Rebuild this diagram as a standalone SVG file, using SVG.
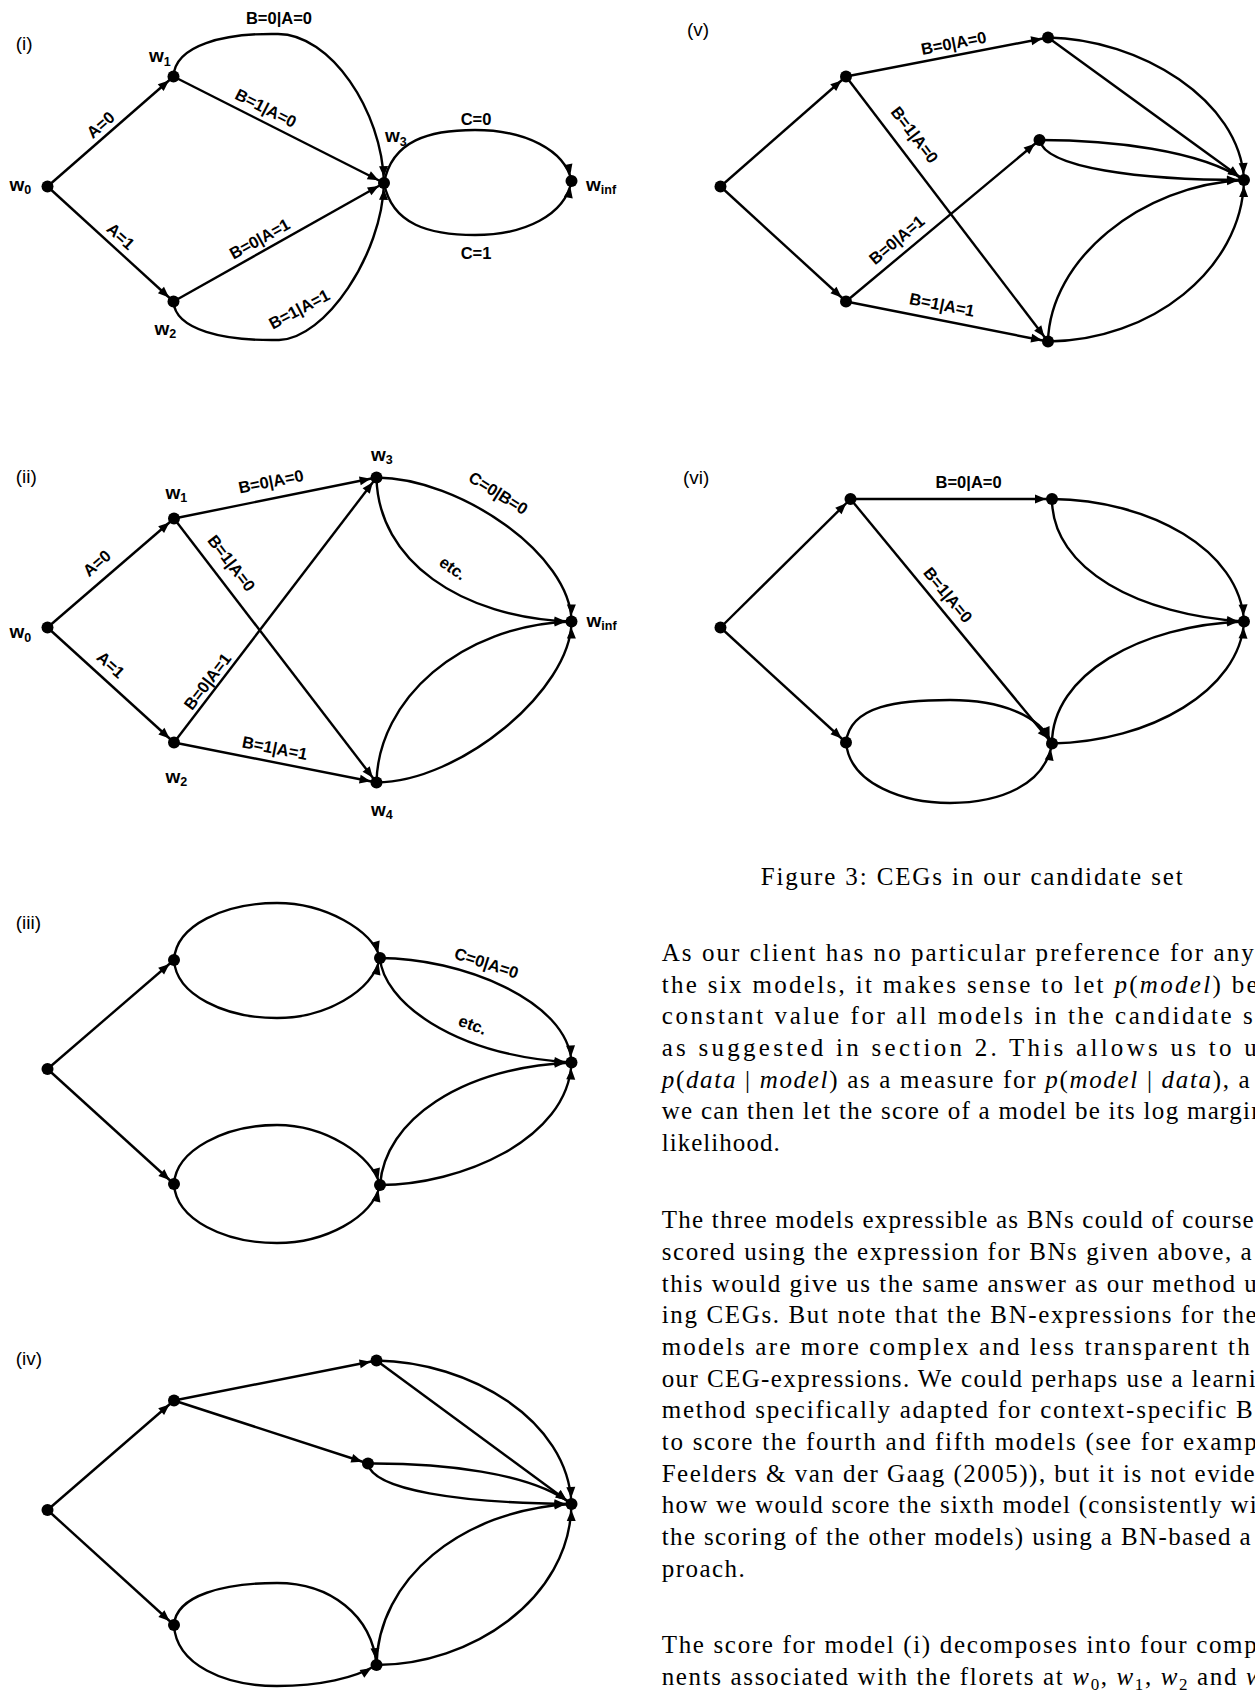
<svg xmlns="http://www.w3.org/2000/svg" width="1255" height="1691" viewBox="0 0 1255 1691">
<defs>
<marker id="ah" markerUnits="userSpaceOnUse" markerWidth="20" markerHeight="10" refX="17" refY="4.5" orient="auto" overflow="visible">
<path d="M0,0 L11,4.5 L0,9 z" fill="#000"/>
</marker>
<style>
.e{fill:none;stroke:#000;stroke-width:2.4;marker-end:url(#ah)}
circle{fill:#000}
.lb{font-family:"Liberation Sans",Arial,sans-serif;font-weight:bold;font-size:16.5px;text-anchor:middle;fill:#000}
.wl{font-family:"Liberation Sans",Arial,sans-serif;font-weight:bold;font-size:19px;fill:#000}
.sb{font-size:12.5px}
.pl{font-family:"Liberation Sans",Arial,sans-serif;font-size:19px;fill:#000}
.tx{font-family:"Liberation Serif","DejaVu Serif",serif;font-size:25px;fill:#000}
.it{font-style:italic}
</style>
</defs>
<rect width="1255" height="1691" fill="#fff"/>

<g id="connectors">
<!-- (i) -->
<path class="e" d="M47.5,186.5 L173.5,76.5"/>
<path class="e" d="M47.5,186.5 L173.5,301.5"/>
<path class="e" d="M173.5,76.5 L384,183"/>
<path class="e" d="M173.5,301.5 L384,183"/>
<path class="e" d="M173.5,76.5 C175,45 224,33 278,34 C330,34 382,110 384,183"/>
<path class="e" d="M173.5,301.5 C175,330 224,341 279,340 C325,339 382,255 384,183"/>
<path class="e" d="M384,183 C392,140 430,130 475,130 C525,130 565,150 571.5,181"/>
<path class="e" d="M384,183 C392,225 430,235 475,235 C525,235 565,215 571.5,181"/>
<!-- (ii) -->
<path class="e" d="M47.5,627.5 L174,518.5"/>
<path class="e" d="M47.5,627.5 L174,742.5"/>
<path class="e" d="M174,518.5 L376.5,477.5"/>
<path class="e" d="M174,518.5 L376.5,782.5"/>
<path class="e" d="M174,742.5 L376.5,477.5"/>
<path class="e" d="M174,742.5 L376.5,782.5"/>
<path class="e" d="M376.5,477.5 C460,478 571,555 571.5,621.5"/>
<path class="e" d="M376.5,477.5 C378,560 460,618 571.5,621.5"/>
<path class="e" d="M376.5,782.5 C378,700 460,625 571.5,621.5"/>
<path class="e" d="M376.5,782.5 C460,782 571,690 571.5,621.5"/>
<!-- (iii) -->
<path class="e" d="M47.5,1069 L174,960"/>
<path class="e" d="M47.5,1069 L174,1184"/>
<path class="e" d="M174,960 C176,925 225,903 277,903 C325,903 372,930 380,958"/>
<path class="e" d="M174,960 C176,995 225,1018 277,1018 C325,1018 372,992 380,958"/>
<path class="e" d="M174,1184 C176,1150 225,1125 277,1125 C325,1125 372,1155 380,1185"/>
<path class="e" d="M174,1184 C176,1220 225,1243 277,1243 C325,1243 372,1218 380,1185"/>
<path class="e" d="M380,958 C460,958 568,1000 571.5,1062.5"/>
<path class="e" d="M380,958 C383,1000 450,1055 571.5,1062.5"/>
<path class="e" d="M380,1185 C385,1120 460,1068 571.5,1062.5"/>
<path class="e" d="M380,1185 C460,1185 568,1140 571.5,1062.5"/>
<!-- (iv) -->
<path class="e" d="M47.5,1510 L174,1400.5"/>
<path class="e" d="M47.5,1510 L174,1625"/>
<path class="e" d="M174,1400.5 L376.5,1360.5"/>
<path class="e" d="M174,1400.5 L368,1463.5"/>
<path class="e" d="M376.5,1360.5 L571.5,1504"/>
<path class="e" d="M376.5,1360.5 C470,1362 568,1420 571.5,1504"/>
<path class="e" d="M368,1463.5 C440,1463 530,1472 571.5,1504"/>
<path class="e" d="M368,1463.5 C372,1490 460,1503 571.5,1504"/>
<path class="e" d="M174,1625 C176,1595 225,1583 277,1583 C330,1583 372,1615 376.5,1665"/>
<path class="e" d="M174,1625 C176,1665 225,1686 277,1686 C320,1686 355,1678 376.5,1665"/>
<path class="e" d="M376.5,1665 C378,1580 460,1510 571.5,1504"/>
<path class="e" d="M376.5,1665 C470,1665 570,1600 571.5,1504"/>
<!-- (v) -->
<path class="e" d="M720.5,186.5 L846,76.5"/>
<path class="e" d="M720.5,186.5 L846,301.5"/>
<path class="e" d="M846,76.5 L1048,37.5"/>
<path class="e" d="M846,76.5 L1048,341.5"/>
<path class="e" d="M846,301.5 L1039.5,140"/>
<path class="e" d="M846,301.5 L1048,341.5"/>
<path class="e" d="M1048,37.5 L1244,180"/>
<path class="e" d="M1048,37.5 C1140,39 1240,100 1244,180"/>
<path class="e" d="M1039.5,140 C1110,140 1200,150 1244,180"/>
<path class="e" d="M1039.5,140 C1045,168 1140,180 1244,180"/>
<path class="e" d="M1048,341.5 C1050,260 1140,185 1244,180"/>
<path class="e" d="M1048,341.5 C1150,341 1242,270 1244,180"/>
<!-- (vi) -->
<path class="e" d="M720.5,627.5 L850.5,499"/>
<path class="e" d="M720.5,627.5 L846,742.5"/>
<path class="e" d="M850.5,499 L1052,499"/>
<path class="e" d="M850.5,499 L1052,743.5"/>
<path class="e" d="M846,742.5 C850,705 900,700 950,700 C1000,700 1040,715 1052,743.5"/>
<path class="e" d="M846,742.5 C850,785 905,803 950,803 C1000,803 1045,785 1052,743.5"/>
<path class="e" d="M1052,499 C1150,500 1240,550 1244,621.5"/>
<path class="e" d="M1052,499 C1052,570 1140,615 1244,621.5"/>
<path class="e" d="M1052,743.5 C1052,675 1140,625 1244,621.5"/>
<path class="e" d="M1052,743.5 C1150,742 1240,690 1244,621.5"/>
</g>

<g id="edge-labels">
<text class="lb" x="279" y="23.5">B=0|A=0</text>
<text class="lb" x="476" y="124.5">C=0</text>
<text class="lb" x="476" y="258.5">C=1</text>
<text class="lb" transform="translate(100.8,125) rotate(-41)" y="5.5">A=0</text>
<text class="lb" transform="translate(120.6,236.5) rotate(42)" y="5.5">A=1</text>
<text class="lb" transform="translate(265.7,108.3) rotate(27)" y="5.5">B=1|A=0</text>
<text class="lb" transform="translate(259.8,239) rotate(-29)" y="5.5">B=0|A=1</text>
<text class="lb" transform="translate(299.3,309.3) rotate(-28)" y="5.5">B=1|A=1</text>

<text class="lb" transform="translate(97,563.3) rotate(-41)" y="5.5">A=0</text>
<text class="lb" transform="translate(110.7,665) rotate(42)" y="5.5">A=1</text>
<text class="lb" transform="translate(271,481.7) rotate(-11.3)" y="5.5">B=0|A=0</text>
<text class="lb" transform="translate(231.3,563.3) rotate(52.6)" y="5.5">B=1|A=0</text>
<text class="lb" transform="translate(207.6,681.7) rotate(-52.6)" y="5.5">B=0|A=1</text>
<text class="lb" transform="translate(274.8,748.3) rotate(11.2)" y="5.5">B=1|A=1</text>
<text class="lb" transform="translate(498.2,493.3) rotate(32)" y="5.5">C=0|B=0</text>
<text class="lb" transform="translate(452.7,568.3) rotate(35)" y="5.5">etc.</text>

<text class="lb" transform="translate(486.4,963.3) rotate(18)" y="5.5">C=0|A=0</text>
<text class="lb" transform="translate(472.5,1025) rotate(20)" y="5.5">etc.</text>

<text class="lb" transform="translate(953.7,43.3) rotate(-11)" y="5.5">B=0|A=0</text>
<text class="lb" transform="translate(914.5,135) rotate(52.7)" y="5.5">B=1|A=0</text>
<text class="lb" transform="translate(896.9,240) rotate(-39.9)" y="5.5">B=0|A=1</text>
<text class="lb" transform="translate(942,305) rotate(11.2)" y="5.5">B=1|A=1</text>

<text class="lb" x="968.6" y="488.3">B=0|A=0</text>
<text class="lb" transform="translate(947.8,595) rotate(50.5)" y="5.5">B=1|A=0</text>
</g>

<g id="panel-labels">
<text class="pl" x="15.8" y="49.7">(i)</text>
<text class="pl" x="15.8" y="483">(ii)</text>
<text class="pl" x="15.8" y="929">(iii)</text>
<text class="pl" x="15.8" y="1364.7">(iv)</text>
<text class="pl" x="687" y="36.4">(v)</text>
<text class="pl" x="683" y="483.6">(vi)</text>
</g>

<!-- nodes (i) -->
<g id="i-w0"><circle cx="47.5" cy="186.5" r="6"/><text class="wl" x="9.5" y="190.7">w<tspan class="sb" dy="3">0</tspan></text></g>
<g id="i-w1"><circle cx="173.5" cy="76.5" r="6"/><text class="wl" x="149" y="62.3">w<tspan class="sb" dy="4">1</tspan></text></g>
<g id="i-w2"><circle cx="173.5" cy="301.5" r="6"/><text class="wl" x="154.5" y="335">w<tspan class="sb" dy="3">2</tspan></text></g>
<g id="i-w3"><circle cx="384" cy="183" r="6"/><text class="wl" x="385" y="142.3">w<tspan class="sb" dy="4">3</tspan></text></g>
<g id="i-winf"><circle cx="571.5" cy="181" r="6"/><text class="wl" x="586" y="190.7">w<tspan class="sb" dy="3">inf</tspan></text></g>
<!-- nodes (ii) -->
<g id="ii-w0"><circle cx="47.5" cy="627.5" r="6"/><text class="wl" x="9.5" y="637.5">w<tspan class="sb" dy="4">0</tspan></text></g>
<g id="ii-w1"><circle cx="174" cy="518.5" r="6"/><text class="wl" x="165.5" y="499">w<tspan class="sb" dy="3">1</tspan></text></g>
<g id="ii-w2"><circle cx="174" cy="742.5" r="6"/><text class="wl" x="165.5" y="782.7">w<tspan class="sb" dy="3">2</tspan></text></g>
<g id="ii-w3"><circle cx="376.5" cy="477.5" r="6"/><text class="wl" x="371" y="460.7">w<tspan class="sb" dy="3">3</tspan></text></g>
<g id="ii-w4"><circle cx="376.5" cy="782.5" r="6"/><text class="wl" x="371" y="816">w<tspan class="sb" dy="3">4</tspan></text></g>
<g id="ii-winf"><circle cx="571.5" cy="621.5" r="6"/><text class="wl" x="586.5" y="626.7">w<tspan class="sb" dy="3">inf</tspan></text></g>
<!-- nodes (iii) -->
<g id="iii-n0"><circle cx="47.5" cy="1069" r="6"/></g>
<g id="iii-n1"><circle cx="174" cy="960" r="6"/></g>
<g id="iii-n2"><circle cx="380" cy="958" r="6"/></g>
<g id="iii-n3"><circle cx="174" cy="1184" r="6"/></g>
<g id="iii-n4"><circle cx="380" cy="1185" r="6"/></g>
<g id="iii-n5"><circle cx="571.5" cy="1062.5" r="6"/></g>
<!-- nodes (iv) -->
<g id="iv-n0"><circle cx="47.5" cy="1510" r="6"/></g>
<g id="iv-n1"><circle cx="174" cy="1400.5" r="6"/></g>
<g id="iv-n2"><circle cx="376.5" cy="1360.5" r="6"/></g>
<g id="iv-n3"><circle cx="368" cy="1463.5" r="6"/></g>
<g id="iv-n4"><circle cx="174" cy="1625" r="6"/></g>
<g id="iv-n5"><circle cx="376.5" cy="1665" r="6"/></g>
<g id="iv-n6"><circle cx="571.5" cy="1504" r="6"/></g>
<!-- nodes (v) -->
<g id="v-n0"><circle cx="720.5" cy="186.5" r="6"/></g>
<g id="v-n1"><circle cx="846" cy="76.5" r="6"/></g>
<g id="v-n2"><circle cx="1048" cy="37.5" r="6"/></g>
<g id="v-n3"><circle cx="1039.5" cy="140" r="6"/></g>
<g id="v-n4"><circle cx="846" cy="301.5" r="6"/></g>
<g id="v-n5"><circle cx="1048" cy="341.5" r="6"/></g>
<g id="v-n6"><circle cx="1244" cy="180" r="6"/></g>
<!-- nodes (vi) -->
<g id="vi-n0"><circle cx="720.5" cy="627.5" r="6"/></g>
<g id="vi-n1"><circle cx="850.5" cy="499" r="6"/></g>
<g id="vi-n2"><circle cx="1052" cy="499" r="6"/></g>
<g id="vi-n3"><circle cx="846" cy="742.5" r="6"/></g>
<g id="vi-n4"><circle cx="1052" cy="743.5" r="6"/></g>
<g id="vi-n5"><circle cx="1244" cy="621.5" r="6"/></g>

<g id="caption">
<text class="tx" x="760.7" y="885" font-size="26" textLength="422" lengthAdjust="spacing">Figure 3: CEGs in our candidate set</text>
</g>

<g id="body-text">
<text class="tx" x="661.7" y="961" textLength="592" lengthAdjust="spacing">As our client has no particular preference for any</text>
<text class="tx" x="661.7" y="992.7" textLength="596" lengthAdjust="spacing">the six models, it makes sense to let <tspan class="it">p</tspan>(<tspan class="it">model</tspan>) be</text>
<text class="tx" x="661.7" y="1024.3" textLength="591" lengthAdjust="spacing">constant value for all models in the candidate s</text>
<text class="tx" x="661.7" y="1056" textLength="595" lengthAdjust="spacing">as suggested in section 2.  This allows us to u</text>
<text class="tx" x="661.7" y="1087.7" textLength="588" lengthAdjust="spacing"><tspan class="it">p</tspan>(<tspan class="it">data</tspan> | <tspan class="it">model</tspan>) as a measure for <tspan class="it">p</tspan>(<tspan class="it">model</tspan> | <tspan class="it">data</tspan>), a</text>
<text class="tx" x="661.7" y="1119.3" textLength="602" lengthAdjust="spacing">we can then let the score of a model be its log margin</text>
<text class="tx" x="661.7" y="1151" textLength="118" lengthAdjust="spacing">likelihood.</text>

<text class="tx" x="661.7" y="1228.3" textLength="592" lengthAdjust="spacing">The three models expressible as BNs could of course</text>
<text class="tx" x="661.7" y="1260" textLength="590" lengthAdjust="spacing">scored using the expression for BNs given above, a</text>
<text class="tx" x="661.7" y="1291.7" textLength="595" lengthAdjust="spacing">this would give us the same answer as our method u</text>
<text class="tx" x="661.7" y="1323.3" textLength="595" lengthAdjust="spacing">ing CEGs. But note that the BN-expressions for the</text>
<text class="tx" x="661.7" y="1355" textLength="588" lengthAdjust="spacing">models are more complex and less transparent th</text>
<text class="tx" x="661.7" y="1386.7" textLength="594" lengthAdjust="spacing">our CEG-expressions. We could perhaps use a learni</text>
<text class="tx" x="661.7" y="1418.3" textLength="591" lengthAdjust="spacing">method specifically adapted for context-specific B</text>
<text class="tx" x="661.7" y="1450" textLength="595" lengthAdjust="spacing">to score the fourth and fifth models (see for examp</text>
<text class="tx" x="661.7" y="1481.7" textLength="593" lengthAdjust="spacing">Feelders &amp; van der Gaag (2005)), but it is not evide</text>
<text class="tx" x="661.7" y="1513.3" textLength="595" lengthAdjust="spacing">how we would score the sixth model (consistently wi</text>
<text class="tx" x="661.7" y="1545" textLength="589" lengthAdjust="spacing">the scoring of the other models) using a BN-based a</text>
<text class="tx" x="661.7" y="1576.7" textLength="83" lengthAdjust="spacing">proach.</text>

<text class="tx" x="661.7" y="1653.3" textLength="595" lengthAdjust="spacing">The score for model (i) decomposes into four comp</text>
<text class="tx" x="661.7" y="1684.5" textLength="601" lengthAdjust="spacing">nents associated with the florets at <tspan class="it">w</tspan><tspan font-size="17" dy="5">0</tspan><tspan dy="-5">, </tspan><tspan class="it">w</tspan><tspan font-size="17" dy="5">1</tspan><tspan dy="-5">, </tspan><tspan class="it">w</tspan><tspan font-size="17" dy="5">2</tspan><tspan dy="-5"> and </tspan><tspan class="it">w</tspan></text>
</g>
</svg>
